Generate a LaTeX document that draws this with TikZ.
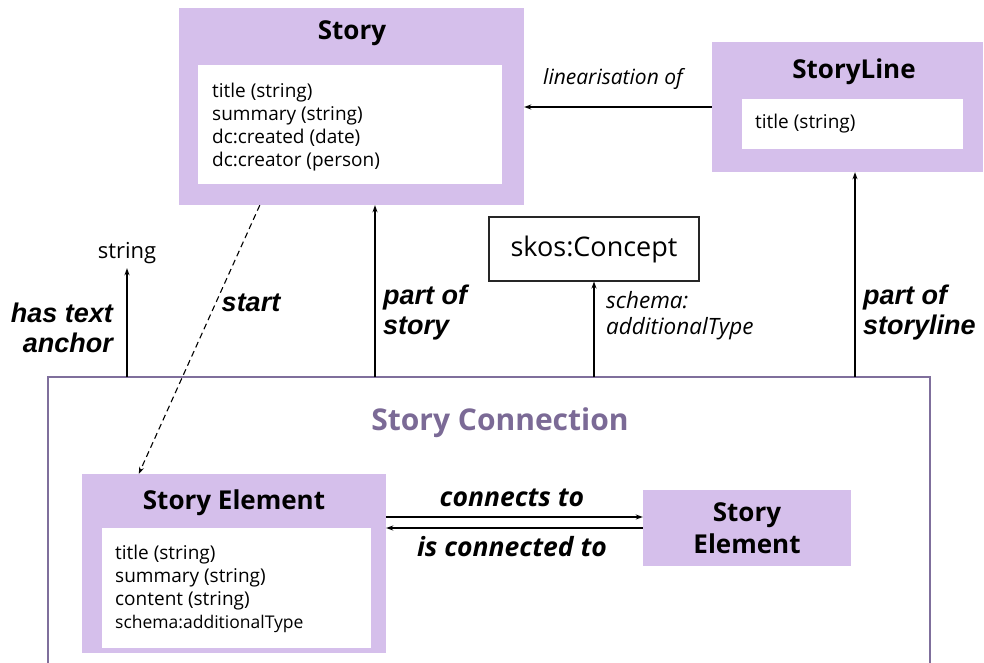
\documentclass[tikz,border=0pt]{standalone}
\usepackage{fontspec}
\setmainfont{Open Sans}
\newfontfamily\arialf{Liberation Sans}
\usetikzlibrary{arrows.meta}
\definecolor{lav}{HTML}{D5BFEB}
\definecolor{framec}{HTML}{7F6F9C}
\definecolor{titlec}{HTML}{7B6A96}
\begin{document}
\begin{tikzpicture}[x=1pt,y=-1pt,
  outerbox/.style={fill=lav,draw=none,inner sep=0pt},
  innerbox/.style={fill=white,draw=none,inner sep=0pt},
  ttl/.style={font=\fontsize{26}{32}\selectfont\bfseries,inner sep=0pt},
  attr/.style={font=\fontsize{19}{23}\selectfont,align=left,inner sep=0pt,anchor=north west},
  arr/.style={-{Stealth[length=7pt,width=5pt]},line width=1.2pt},
  lbl/.style={font=\fontsize{27}{30}\selectfont\arialf\bfseries\itshape,inner sep=0pt},
  ilbl/.style={font=\fontsize{21}{25}\selectfont\itshape,inner sep=0pt},
  clbl/.style={font=\fontsize{26.5}{30}\selectfont\bfseries\itshape,inner sep=0pt}]
\useasboundingbox (0,0) rectangle (984,663);
% Story
\node[outerbox,minimum width=345pt,minimum height=197pt] (story) at (351.5,106.5) {};
\node[innerbox,minimum width=304pt,minimum height=119pt] (storyin) at (350,124.5) {};
\node[ttl] (storyt) at (352,33) {Story};
\node[attr] (storyattr) at (212,83) {title (string)\\summary (string)\\dc:created (date)\\dc:creator (person)};
% StoryLine
\node[outerbox,minimum width=271pt,minimum height=130pt] (sl) at (847.5,107) {};
\node[innerbox,minimum width=221pt,minimum height=50pt] (slin) at (852.5,124) {};
\node[ttl] (slt) at (854,72) {StoryLine};
\node[attr,anchor=west] (slattr) at (755,124) {title (string)};
% skos
\node[draw=black!85,line width=1.1pt,minimum width=210pt,minimum height=64pt,inner sep=0pt,font=\fontsize{27}{32}\selectfont] (skos) at (594,249) {skos:Concept};
% string
\node[font=\fontsize{22}{26}\selectfont,inner sep=0pt,minimum height=30pt] (str) at (127,253) {string};
% container
\coordinate (ctl) at (48,377);
\coordinate (ctr) at (930,377);
\draw[framec,line width=1.3pt] (48,663) -- (ctl) -- (ctr) -- (930,663);
\node[font=\fontsize{30}{34}\selectfont\bfseries,text=titlec,inner sep=0pt] (sct) at (500,423) {Story Connection};
% Story Element
\node[outerbox,minimum width=304pt,minimum height=179pt] (se) at (234,563.5) {};
\node[innerbox,minimum width=269pt,minimum height=120pt] (sein) at (236.5,588) {};
\node[ttl] (set) at (234,503) {Story Element};
\node[attr] (seattr) at (115,545) {title (string)\\summary (string)\\content (string)\\{\fontsize{17.5}{23}\selectfont schema:additionalType}};
% Story Element 2
\node[outerbox,minimum width=208pt,minimum height=76pt,font=\fontsize{26}{32}\selectfont\bfseries,align=center] (se2) at (747,528) {Story\\Element};
% arrows
\draw[arr] (sl.west) -- (sl.west -| story.east);
\node[ilbl] (linl) at (613,79) {linearisation of};
\draw[arr] (str.south |- ctl) -- (str.south);
\node[lbl,align=right,anchor=east] (hta) at (113,328) {has text\\anchor};
\draw[arr,dash pattern=on 6pt off 4pt,line width=1.1pt] ([xshift=81pt]story.south west) -- ([xshift=57pt]se.north west);
\node[lbl] (startl) at (251,303) {start};
\draw[arr] ([xshift=23.5pt]story.south |- ctl) -- ([xshift=23.5pt]story.south);
\node[lbl,align=left,anchor=west] (pos) at (383,313) {part of\\story};
\draw[arr] (skos.south |- ctl) -- (skos.south);
\node[ilbl,font=\fontsize{22.5}{26}\selectfont\itshape,align=left,anchor=west] (sat) at (606,316) {schema:\\additionalType};
\draw[arr] ([xshift=7.5pt]sl.south |- ctl) -- ([xshift=7.5pt]sl.south);
\node[lbl,align=left,anchor=west] (posl) at (863,313) {part of\\storyline};
\coordinate (c1) at ([yshift=11pt]se2.west);
\draw[arr] (c1 -| se.east) -- (c1);
\draw[arr] (se2.west) -- (se2.west -| se.east);
\node[clbl] (ct) at (512,498) {connects to};
\node[clbl] (ict) at (512,547) {is connected to};
\end{tikzpicture}
\end{document}
